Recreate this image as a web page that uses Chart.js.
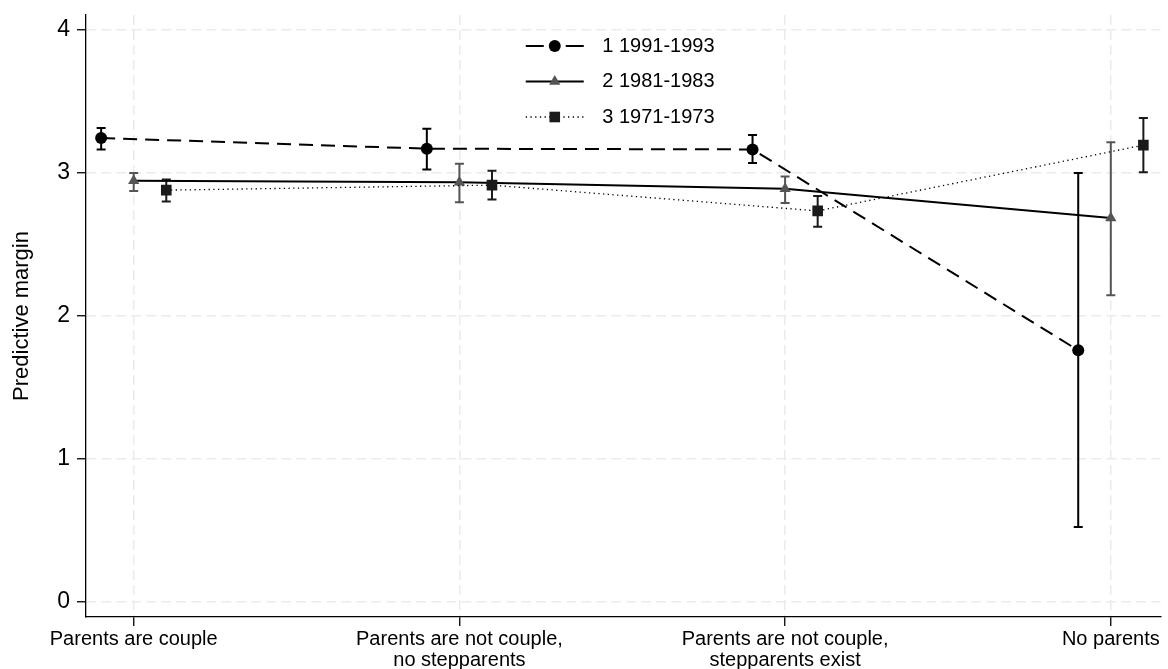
<!DOCTYPE html>
<html><head><meta charset="utf-8">
<script src="https://cdn.jsdelivr.net/npm/chart.js@4.4.1/dist/chart.umd.min.js"></script>
<style>html,body{margin:0;padding:0;background:#fff;overflow:hidden}</style>
</head><body>
<canvas id="c" width="1168" height="669"></canvas>
<script>
// ---- data ----
const categories = ['Parents are couple', ['Parents are not couple,', 'no stepparents'], ['Parents are not couple,', 'stepparents exist'], 'No parents'];
const seriesLabels = ['1 1991-1993', '2 1981-1983', '3 1971-1973'];
const margin1991 = [3.24, 3.165, 3.16, 1.755];
const lower1991 = [3.16, 3.02, 3.065, 0.52];
const upper1991 = [3.31, 3.305, 3.26, 2.995];
const margin1981 = [2.94, 2.93, 2.885, 2.68];
const lower1981 = [2.87, 2.79, 2.785, 2.14];
const upper1981 = [2.995, 3.06, 2.97, 3.21];
const margin1971 = [2.875, 2.91, 2.73, 3.19];
const lower1971 = [2.795, 2.81, 2.62, 3.0];
const upper1971 = [2.95, 3.01, 2.835, 3.38];
const yTickValues = [0, 1, 2, 3, 4];
const yTitle = 'Predictive margin';

// ---- styles ----
const FONT = '"Liberation Sans", Arial, Helvetica, sans-serif';
const styles = [
  { dodge: -0.1, pointStyle: 'circle', radius: 6, markerColor: '#000000', dash: [14, 8], width: 2, legendDash: [18, 22] },
  { dodge: 0, pointStyle: 'triangle', radius: 6.5, markerColor: '#555555', dash: [], width: 2, legendDash: [] },
  { dodge: 0.1, pointStyle: 'rect', radius: 7.5, markerColor: '#1a1a1a', dash: [1.3, 3.4], width: 1.3, legendDash: [1.3, 3.4] }
];
const seriesData = [
  { m: margin1991, lo: lower1991, hi: upper1991 },
  { m: margin1981, lo: lower1981, hi: upper1981 },
  { m: margin1971, lo: lower1971, hi: upper1971 }
];

const datasets = seriesData.map((s, i) => ({
  label: seriesLabels[i],
  data: s.m.map((v, j) => ({ x: j + 1 + styles[i].dodge, y: v })),
  showLine: true,
  borderColor: '#000000',
  borderWidth: styles[i].width,
  borderDash: styles[i].dash,
  borderCapStyle: 'butt',
  pointStyle: styles[i].pointStyle,
  pointRadius: styles[i].radius,
  pointHoverRadius: styles[i].radius,
  pointBackgroundColor: styles[i].markerColor,
  pointBorderColor: styles[i].markerColor,
  pointBorderWidth: 0,
  tension: 0,
  order: 3 - i
}));

function drawMarker(ctx, style, x, y, color, r) {
  ctx.save();
  ctx.fillStyle = color;
  ctx.beginPath();
  if (style === 'circle') {
    ctx.arc(x, y, r, 0, Math.PI * 2);
  } else if (style === 'triangle') {
    const a = Math.PI / 2;
    ctx.moveTo(x + Math.cos(-a) * r, y + Math.sin(-a) * r);
    ctx.lineTo(x + Math.cos(-a + 2 * Math.PI / 3) * r, y + Math.sin(-a + 2 * Math.PI / 3) * r);
    ctx.lineTo(x + Math.cos(-a + 4 * Math.PI / 3) * r, y + Math.sin(-a + 4 * Math.PI / 3) * r);
    ctx.closePath();
  } else {
    const s = Math.SQRT1_2 * r;
    ctx.rect(x - s, y - s, 2 * s, 2 * s);
  }
  ctx.fill();
  ctx.restore();
}

const errorBars = {
  id: 'errorBars',
  beforeDatasetsDraw(chart) {
    const ctx = chart.ctx, xs = chart.scales.x, ys = chart.scales.y;
    ctx.save();
    seriesData.forEach((s, i) => {
      ctx.strokeStyle = styles[i].markerColor;
      ctx.lineWidth = 2;
      ctx.setLineDash([]);
      s.m.forEach((v, j) => {
        const px = xs.getPixelForValue(j + 1 + styles[i].dodge);
        const y1 = ys.getPixelForValue(s.lo[j]);
        const y2 = ys.getPixelForValue(s.hi[j]);
        ctx.beginPath();
        ctx.moveTo(px, y1); ctx.lineTo(px, y2);
        ctx.moveTo(px - 4.5, y1); ctx.lineTo(px + 4.5, y1);
        ctx.moveTo(px - 4.5, y2); ctx.lineTo(px + 4.5, y2);
        ctx.stroke();
      });
    });
    ctx.restore();
  }
};

const customLegend = {
  id: 'customLegend',
  afterDraw(chart) {
    const ctx = chart.ctx, ca = chart.chartArea;
    const cx = (ca.left + ca.right) / 2;
    ctx.save();
    seriesLabels.forEach((lab, i) => {
      const y = ca.top + 31 + i * 35.5;
      const x0 = cx - 97.5, x1 = cx - 39.5;
      ctx.strokeStyle = '#000';
      ctx.lineWidth = styles[i].width;
      ctx.setLineDash(styles[i].legendDash);
      ctx.beginPath(); ctx.moveTo(x0, y); ctx.lineTo(x1, y); ctx.stroke();
      ctx.setLineDash([]);
      drawMarker(ctx, styles[i].pointStyle, (x0 + x1) / 2, y, styles[i].markerColor, styles[i].radius);
      ctx.fillStyle = '#000';
      ctx.font = '20px ' + FONT;
      ctx.textAlign = 'left';
      ctx.textBaseline = 'middle';
      ctx.fillText(lab, cx - 21, y);
    });
    ctx.restore();
  }
};

new Chart(document.getElementById('c'), {
  type: 'scatter',
  data: { datasets },
  plugins: [errorBars, customLegend],
  options: {
    responsive: false,
    animation: false,
    devicePixelRatio: 1,
    layout: { padding: { top: 15, right: 1, left: 0, bottom: 0 } },
    plugins: { legend: { display: false }, tooltip: { enabled: false } },
    scales: {
      x: {
        type: 'linear',
        min: 0.8535, max: 4.1526,
        afterBuildTicks(scale) { scale.ticks = categories.map((c, i) => ({ value: i + 1 })); },
        afterFit(scale) { scale.height = 52; scale.paddingLeft = 0; scale.paddingRight = 0; },
        ticks: {
          autoSkip: false, maxRotation: 0, minRotation: 0,
          padding: 2.5, color: '#000',
          font: { family: FONT, size: 20, lineHeight: 1.05 },
          callback(v) { return categories[Math.round(v) - 1]; }
        },
        grid: { color: '#ebebeb', lineWidth: 1.5, drawTicks: true, tickLength: 9, tickColor: '#000', tickWidth: 1.3, tickBorderDash: [] },
        border: { display: true, color: '#000', width: 1.3, dash: [10, 5] }
      },
      y: {
        type: 'linear',
        min: -0.11, max: 4.1,
        afterBuildTicks(scale) { scale.ticks = yTickValues.map(v => ({ value: v })); },
        afterFit(scale) { scale.width = 86; scale.paddingTop = 0; scale.paddingBottom = 0; },
        ticks: { padding: 7, color: '#000', font: { family: FONT, size: 23 } },
        grid: { color: '#ebebeb', lineWidth: 1.5, drawTicks: true, tickLength: 9, tickColor: '#000', tickWidth: 1.3, tickBorderDash: [] },
        border: { display: true, color: '#000', width: 1.3, dash: [10, 5] },
        title: { display: true, text: yTitle, color: '#000', font: { family: FONT, size: 22 }, padding: { top: 9, bottom: 0 } }
      }
    }
  }
});
</script>
</body></html>
